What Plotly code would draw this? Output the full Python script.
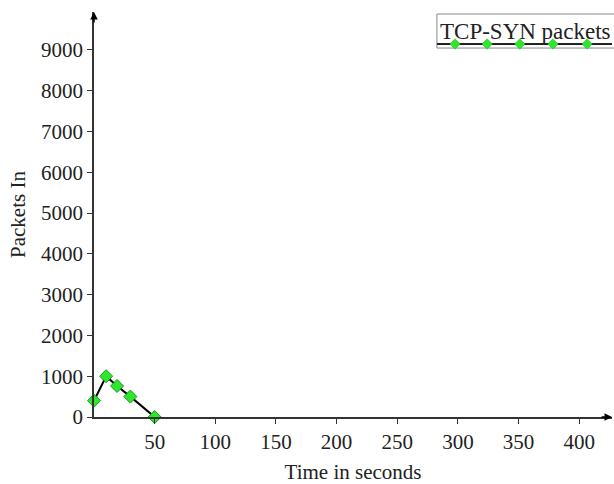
import plotly.graph_objects as go

time_s = [0, 10, 19, 30, 50]
packets_in = [400, 1000, 760, 500, 0]
x_ticks = [50, 100, 150, 200, 250, 300, 350, 400]
y_ticks = [0, 1000, 2000, 3000, 4000, 5000, 6000, 7000, 8000, 9000]
series_name = "TCP-SYN packets"
legend_marker_x = [0.697, 0.759, 0.822, 0.886, 0.952]

FONT = "Liberation Serif"
TXT = "#222222"
AX = "#333333"
GREEN = "#2ee62e"

fig = go.Figure()
fig.add_trace(go.Scatter(
    x=time_s, y=packets_in, mode="lines+markers",
    line=dict(color="black", width=2),
    marker=dict(symbol="diamond", size=10, color=GREEN, line=dict(color="#139a13", width=1)),
    cliponaxis=False, showlegend=False))

# legend sample (drawn in an overlay axis in fractional coordinates)
fig.add_trace(go.Scatter(
    x=[0.662, 1.0], y=[0.921, 0.921], mode="lines",
    line=dict(color="#222222", width=2), xaxis="x2", yaxis="y2",
    cliponaxis=False, showlegend=False, hoverinfo="skip"))
fig.add_trace(go.Scatter(
    x=legend_marker_x, y=[0.921] * len(legend_marker_x), mode="markers",
    marker=dict(symbol="diamond", size=8, color=GREEN, line=dict(color="#20b020", width=0.5)),
    xaxis="x2", yaxis="y2", cliponaxis=False, showlegend=False, hoverinfo="skip"))

fig.update_layout(
    width=614, height=484,
    margin=dict(l=94, r=2, t=12, b=67),
    paper_bgcolor="white", plot_bgcolor="white",
    font=dict(family=FONT, size=21, color=TXT),
    xaxis=dict(range=[0, 427], tickvals=x_ticks, showgrid=False, zeroline=False,
               showline=True, linecolor=AX, linewidth=1.5,
               ticks="outside", ticklen=5, tickcolor=AX,
               tickfont=dict(family=FONT, size=21, color=TXT),
               title=dict(text="Time in seconds", font=dict(family=FONT, size=21, color=TXT), standoff=11)),
    yaxis=dict(range=[0, 9930], tickvals=y_ticks, showgrid=False, zeroline=False,
               showline=True, linecolor=AX, linewidth=1.5,
               ticks="outside", ticklen=5, tickcolor=AX,
               tickfont=dict(family=FONT, size=21, color=TXT),
               title=dict(text="Packets In", font=dict(family=FONT, size=21, color=TXT), standoff=10)),
    xaxis2=dict(overlaying="x", range=[0, 1], visible=False, anchor="y2"),
    yaxis2=dict(overlaying="y", range=[0, 1], visible=False, anchor="x2"),
    shapes=[dict(type="rect", xref="paper", yref="paper", x0=0.662, x1=1.01, y0=0.911, y1=0.995,
                 line=dict(color="#8a8a8a", width=1), fillcolor="rgba(0,0,0,0)", layer="below")],
    annotations=[
        dict(xref="paper", yref="paper", x=0.665, y=0.952, xanchor="left", yanchor="middle",
             text=series_name, showarrow=False, font=dict(family=FONT, size=23, color=TXT)),
        dict(xref="paper", yref="paper", x=0, y=1, ax=0, ay=12, axref="pixel", ayref="pixel",
             text="", showarrow=True, arrowhead=2, arrowsize=1, arrowwidth=1.5, arrowcolor="black"),
        dict(xref="paper", yref="paper", x=1, y=0, ax=-12, ay=0, axref="pixel", ayref="pixel",
             text="", showarrow=True, arrowhead=2, arrowsize=1, arrowwidth=1.5, arrowcolor="black"),
    ],
)

fig.write_html("out.html")
